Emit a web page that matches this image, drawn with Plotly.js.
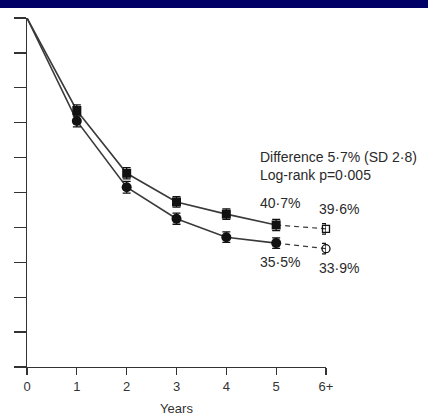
<!DOCTYPE html>
<html>
<head>
<meta charset="utf-8">
<script src="https://cdn.plot.ly/plotly-3.0.1.min.js"></script>
<style>
html,body{margin:0;padding:0;background:#fff;}
#wrap{position:relative;width:428px;height:417px;}
#bar{position:absolute;left:0;top:0;width:428px;height:8px;background:rgb(0,0,102);z-index:5;}
#chart{position:absolute;left:0;top:0;width:428px;height:417px;}
</style>
</head>
<body>
<div id="wrap"><div id="chart"></div><div id="bar"></div></div>
<script>
const years = [0, 1, 2, 3, 4, 5];
const tickLabels = ['0', '1', '2', '3', '4', '5', '6+'];
const squareVals = [100, 73.5, 55.5, 47.3, 43.8, 40.7];
const squareErr = [0, 1.6, 1.6, 1.5, 1.5, 1.6];
const circleVals = [100, 70.5, 51.5, 42.5, 37.2, 35.5];
const circleErr = [0, 1.7, 1.7, 1.6, 1.5, 1.5];
const projYear = 6;
const squareProj = 39.6;
const circleProj = 33.9;
const projErr = 1.5;
const noteLines = ['Difference 5·7% (SD 2·8)', 'Log-rank p=0·005'];

const lineCol = '#3a3a3a';
const txtCol = '#2a2a2a';
const fnt = 'Liberation Sans, Arial, sans-serif';

const traces = [
  {x: years, y: squareVals, mode: 'lines', line: {color: lineCol, width: 1.6}},
  {x: years, y: circleVals, mode: 'lines', line: {color: lineCol, width: 1.6}},
  {x: [years[5], projYear], y: [squareVals[5], squareProj], mode: 'lines', line: {color: lineCol, width: 1.2, dash: '5px,4px'}},
  {x: [years[5], projYear], y: [circleVals[5], circleProj], mode: 'lines', line: {color: lineCol, width: 1.2, dash: '5px,4px'}},
  {x: years.slice(1), y: squareVals.slice(1), mode: 'markers',
   marker: {symbol: 'square', size: 9, color: '#111'},
   error_y: {type: 'data', array: squareErr.slice(1), color: '#111', thickness: 1.3, width: 4}},
  {x: years.slice(1), y: circleVals.slice(1), mode: 'markers',
   marker: {symbol: 'circle', size: 10, color: '#111'},
   error_y: {type: 'data', array: circleErr.slice(1), color: '#111', thickness: 1.3, width: 4}},
  {x: [projYear], y: [squareProj], mode: 'markers',
   marker: {symbol: 'square-open', size: 7, color: '#111', line: {width: 1.3}},
   error_y: {type: 'data', array: [projErr], color: '#111', thickness: 1.3, width: 4}},
  {x: [projYear], y: [circleProj], mode: 'markers',
   marker: {symbol: 'circle-open', size: 8, color: '#111', line: {width: 1.3}},
   error_y: {type: 'data', array: [projErr], color: '#111', thickness: 1.3, width: 4}}
];
traces.forEach(t => { t.cliponaxis = false; t.showlegend = false; t.hoverinfo = 'skip'; });

const fmt = v => v.toFixed(1).replace('.', '·') + '%';
const ann = (xref, x, y, text, xa) => ({x: x, y: y, xref: xref, yref: 'y', text: text, showarrow: false,
  xanchor: xa || 'center', yanchor: 'middle', font: {family: fnt, size: 14, color: txtCol}});

const layout = {
  width: 428, height: 417,
  margin: {l: 27, r: 102, t: 18, b: 50},
  paper_bgcolor: '#fff', plot_bgcolor: '#fff',
  showlegend: false,
  xaxis: {
    range: [0, 6], tickvals: [0, 1, 2, 3, 4, 5, 6], ticktext: tickLabels,
    showgrid: false, zeroline: false, showline: true, linecolor: '#333', linewidth: 1.3,
    ticks: 'outside', ticklen: 7, tickwidth: 1.3, tickcolor: '#333',
    tickfont: {family: fnt, size: 13, color: '#333'},
    title: {text: 'Years', font: {family: fnt, size: 13, color: '#333'}, standoff: 11}
  },
  yaxis: {
    range: [0, 100], tickvals: [0, 10, 20, 30, 40, 50, 60, 70, 80, 90, 100],
    showticklabels: false, showgrid: false, zeroline: false,
    showline: true, linecolor: '#333', linewidth: 1.3,
    ticks: 'outside', ticklen: 12, tickwidth: 1.3, tickcolor: '#333'
  },
  annotations: [
    ann('x', 4.636, 60.2, noteLines[0], 'left'),
    ann('x', 4.636, 55.0, noteLines[1], 'left'),
    ann('x', 5.08, 47.0, fmt(squareVals[5])),
    ann('paper', 1.0435, 45.3, fmt(squareProj)),
    ann('x', 5.08, 30.1, fmt(circleVals[5])),
    ann('paper', 1.0435, 28.4, fmt(circleProj))
  ]
};

Plotly.newPlot('chart', traces, layout, {staticPlot: true, displayModeBar: false});
</script>
</body>
</html>
